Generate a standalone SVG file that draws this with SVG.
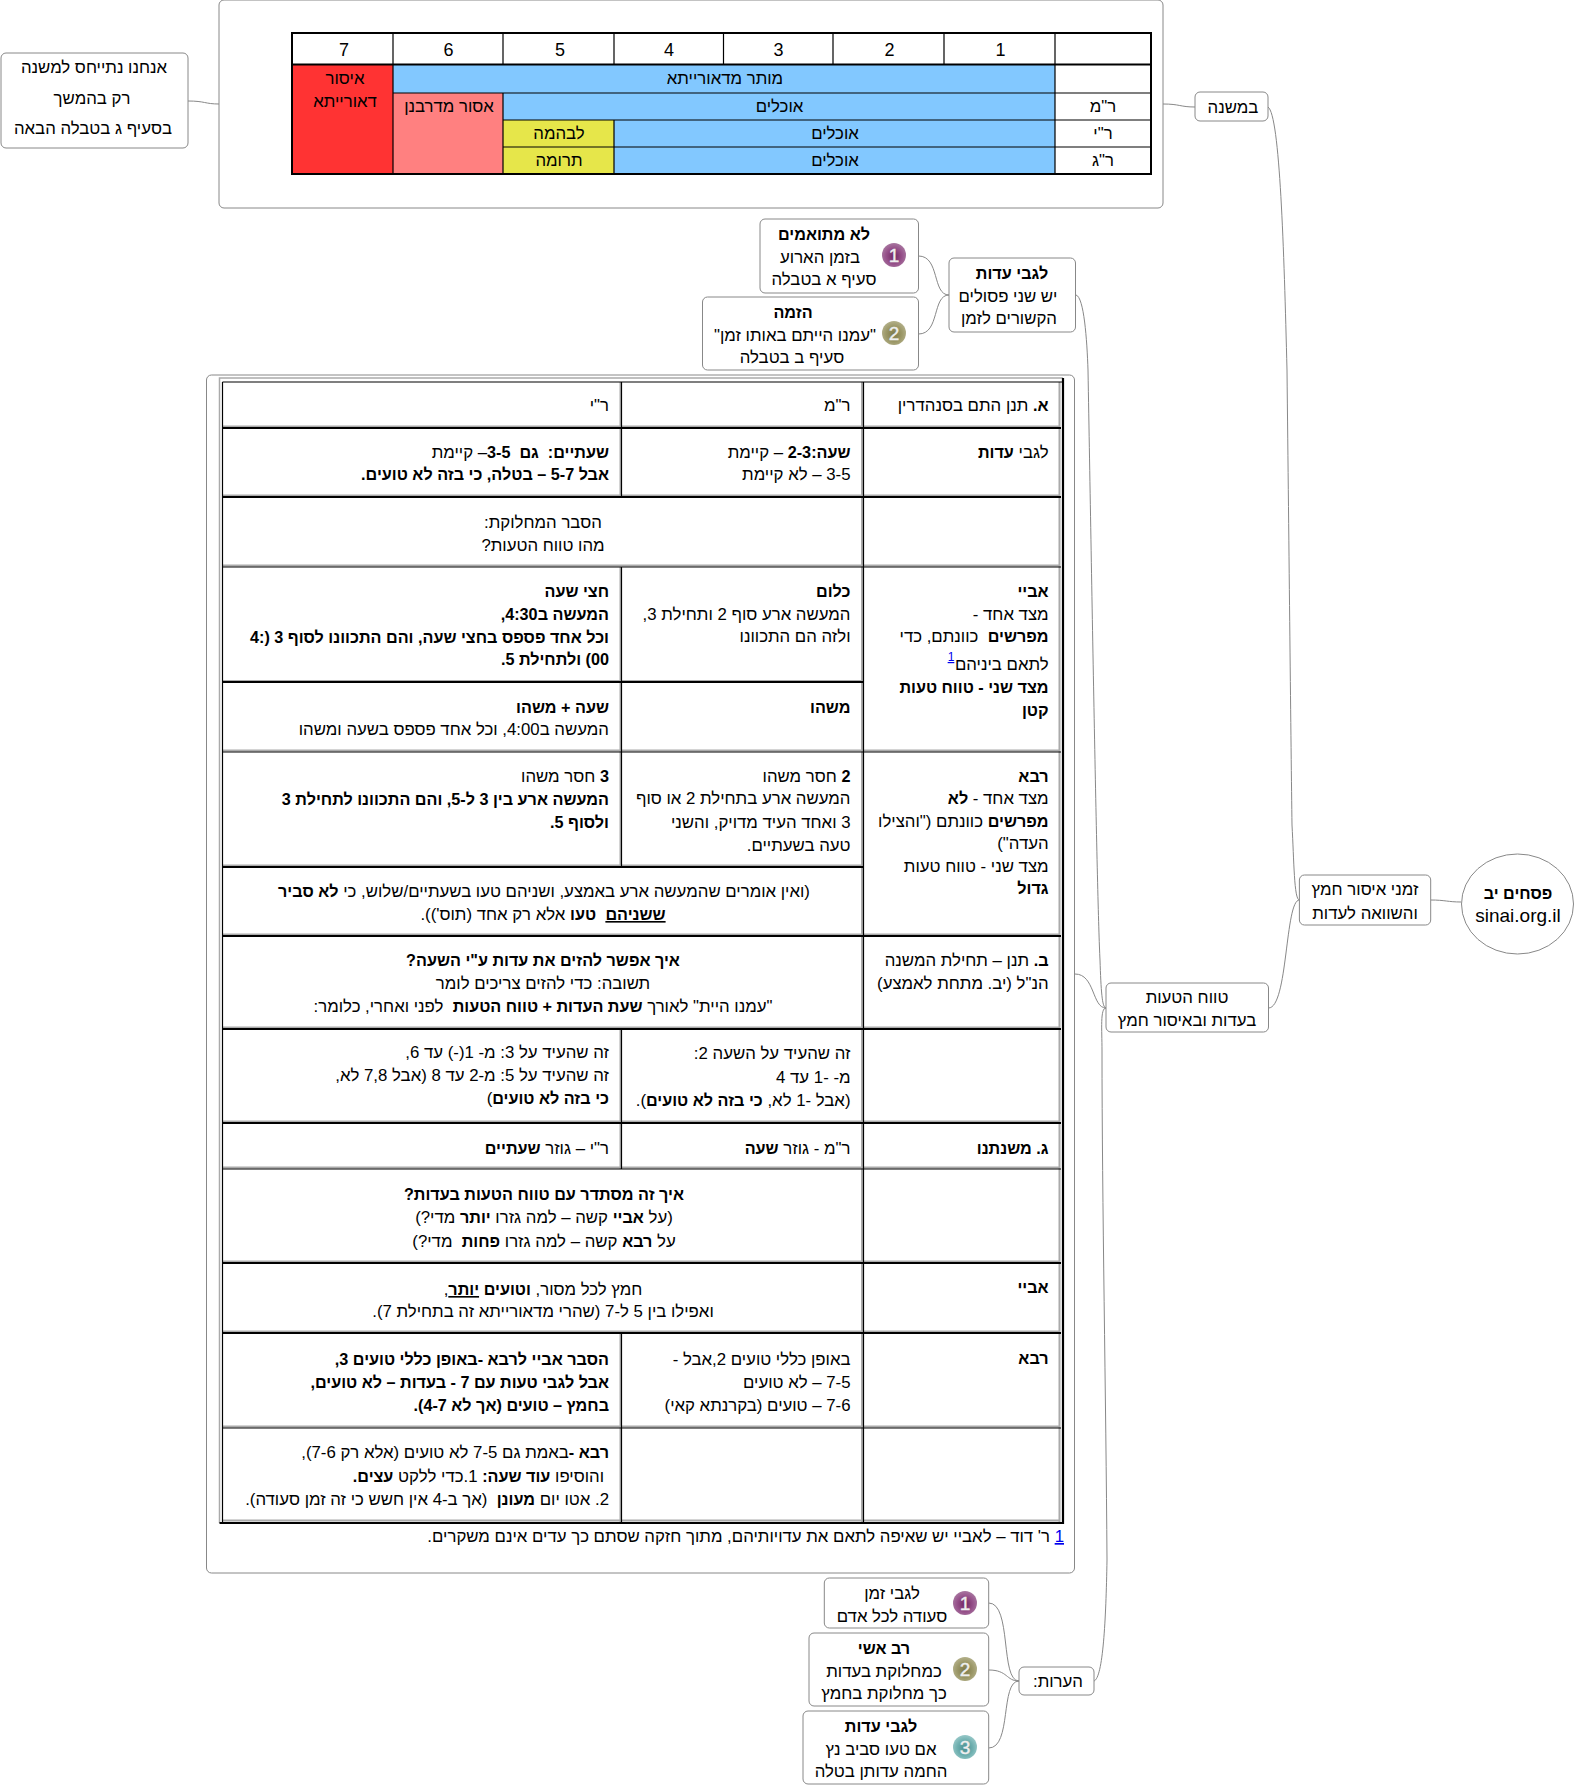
<svg xmlns="http://www.w3.org/2000/svg" width="1575" height="1785" viewBox="0 0 1575 1785">
<defs>
<style>
text{font-family:"Liberation Sans",Arial,sans-serif;font-size:16.8px;fill:#000;white-space:pre}
.r{direction:rtl;text-anchor:start}
.c{direction:rtl;text-anchor:middle}
.n{text-anchor:middle}
.d{font-size:18px}
.b,.bu{font-weight:bold;font-size:16.2px}
.u,.bu{text-decoration:underline}
.l{direction:ltr;unicode-bidi:embed}
.lnk{fill:#00e;text-decoration:underline}
.node{fill:#fff;stroke:#888;stroke-width:1}
.conn{fill:none;stroke:#888;stroke-width:1}
.k1{fill:none;stroke:#000;stroke-width:1.2}
.k2{fill:none;stroke:#000;stroke-width:2.2}
.t2{fill:none;stroke:#000;stroke-width:2}
.g{fill:none;stroke:#aaa;stroke-width:2}
.ico{fill:#eee;font-size:19px;text-anchor:middle;stroke:#eee;stroke-width:.4}
</style>
<radialGradient id="ball1" cx="50%" cy="55%" r="55%"><stop offset="0" stop-color="#6f2660"/><stop offset="0.6" stop-color="#96508a"/><stop offset="1" stop-color="#a877a0"/></radialGradient>
<radialGradient id="ball2" cx="50%" cy="55%" r="55%"><stop offset="0" stop-color="#7c7848"/><stop offset="0.6" stop-color="#9c9868"/><stop offset="1" stop-color="#b3b08a"/></radialGradient>
<radialGradient id="ball3" cx="50%" cy="55%" r="55%"><stop offset="0" stop-color="#4b8f90"/><stop offset="0.6" stop-color="#6fb0b0"/><stop offset="1" stop-color="#98c8c8"/></radialGradient>
</defs>
<rect width="1575" height="1785" fill="#fff"/>

<g id="connectors">
<path class="conn" d="M188,101 C205,101 205,104 219,104"/>
<path class="conn" d="M1163,104 C1180,104 1180,107 1195,107"/>
<path class="conn" d="M918.5,256 C940,256 932,295 949,295"/>
<path class="conn" d="M918.5,334 C940,334 932,295 949,295"/>
<path class="conn" d="M1268,107 C1280,115 1284,250 1287,370 C1289,550 1291,750 1292,825 C1294,860 1294,900 1299.4,900"/>
<path class="conn" d="M1076,295 C1084,297 1087,340 1088,370 C1092,600 1097,900 1100,960 C1101,990 1102,1008 1106,1008"/>
<path class="conn" d="M1075,974 C1095,974 1092,1008 1106,1008"/>
<path class="conn" d="M1094,1681 C1103,1678 1106,1620 1107,1560 C1106,1400 1102,1200 1102,1050 C1102,1030 1100,1008 1106,1008"/>
<path class="conn" d="M1268.5,1008 C1288,1008 1285,900 1299.4,900"/>
<path class="conn" d="M1430.7,900 C1445,900 1448,902 1461,902"/>
<path class="conn" d="M988.7,1603 C1012,1603 1000,1681 1019,1681"/>
<path class="conn" d="M988.7,1670 C1008,1670 1006,1681 1019,1681"/>
<path class="conn" d="M988.7,1748 C1012,1748 1000,1681 1019,1681"/>
</g>

<g id="note-left">
<rect class="node" x="1" y="53" width="187" height="95" rx="5"/>
<text class="c" x="94" y="73">אנחנו נתייחס למשנה</text>
<text class="c" x="92" y="104">רק בהמשך</text>
<text class="c" x="93" y="134">בסעיף ג בטבלה הבאה</text>
</g>

<g id="mishna-table">
<rect class="node" x="219" y="0" width="944" height="208" rx="5"/>
<rect x="292" y="64.5" width="101" height="109.5" fill="#ff3333"/>
<rect x="393" y="93" width="110" height="81" fill="#ff8080"/>
<rect x="393" y="64.5" width="662" height="28.5" fill="#82c8ff"/>
<rect x="503" y="93" width="552" height="27" fill="#82c8ff"/>
<rect x="503" y="120" width="111" height="54" fill="#e6e64a"/>
<rect x="614" y="120" width="441" height="54" fill="#82c8ff"/>
<path class="k1" d="M393,33V174M503,33V64M723.5,33V64M833,33V64M503,93V174M614,33V64M614,120V174M944,33V64M393,93H1152M503,120H1152M503,147H1152M1055,33V174"/>
<path class="t2" d="M292,33H1151V174H292ZM292,64.5H1151"/>
<g>
<text class="n d" x="344" y="56">7</text><text class="n d" x="448.5" y="56">6</text><text class="n d" x="560" y="56">5</text><text class="n d" x="669" y="56">4</text><text class="n d" x="778.6" y="56">3</text><text class="n d" x="889.5" y="56">2</text><text class="n d" x="1000.6" y="56">1</text>
<text class="c" x="725" y="84">מותר מדאורייתא</text>
<text class="c" x="345" y="84">איסור</text>
<text class="c" x="345" y="107">דאורייתא</text>
<text class="c" x="449" y="112">אסור מדרבנן</text>
<text class="c" x="779.5" y="112">אוכלים</text>
<text class="c" x="1103" y="112">ר"מ</text>
<text class="c" x="559" y="139">לבהמה</text>
<text class="c" x="835" y="139">אוכלים</text>
<text class="c" x="1103" y="139">ר"י</text>
<text class="c" x="559" y="166">תרומה</text>
<text class="c" x="835" y="166">אוכלים</text>
<text class="c" x="1103" y="166">ר"ג</text>
</g>
</g>

<g id="bamishna">
<rect class="node" x="1195" y="92" width="73" height="29" rx="5"/>
<text class="c" x="1233" y="113">במשנה</text>
</g>

<g id="lo-mitoamim">
<rect class="node" x="760" y="219" width="158.5" height="74" rx="5"/>
<circle cx="894" cy="255" r="12" fill="url(#ball1)"/><text class="ico" x="894" y="262">1</text>
<text class="c" x="824" y="240"><tspan class="b">לא מתואמים</tspan></text>
<text class="c" x="820" y="263">בזמן הארוע</text>
<text class="c" x="824" y="285">סעיף א בטבלה</text>
</g>

<g id="hazama">
<rect class="node" x="702.5" y="297" width="216" height="73" rx="5"/>
<circle cx="894" cy="333" r="12" fill="url(#ball2)"/><text class="ico" x="894" y="340">2</text>
<text class="c" x="793" y="318"><tspan class="b">הזמה</tspan></text>
<text class="c" x="795" y="341">"עמנו הייתם באותו זמן"</text>
<text class="c" x="792" y="363">סעיף ב בטבלה</text>
</g>

<g id="legabei-edut">
<rect class="node" x="949" y="258" width="126.5" height="74" rx="5"/>
<text class="c" x="1012" y="279"><tspan class="b">לגבי עדות</tspan></text>
<text class="c" x="1008" y="302">יש שני פסולים</text>
<text class="c" x="1009" y="324">הקשורים לזמן</text>
</g>

<g id="main-table">
<rect class="node" x="206.5" y="375" width="868" height="1198" rx="5"/>
<path fill="none" stroke="#aaa" stroke-width="1.5" d="M219.5,1523V378H1063"/>
<path class="g" d="M222,426.5H1060M222,495.5H1060M222,565.5H1060M222,681H863M222,750.5H1060M222,865.5H863M222,934.5H1060M222,1027.5H1060M222,1121.5H1060M222,1167.5H1060M222,1261.5H1060M222,1331.5H1060M222,1426.5H1060M222,1520.5H1060M862,382V1522M620.5,382V497M620.5,567V867M620.5,1029V1169M620.5,1333V1522M1059.5,382V1522"/>
<path class="k1" d="M222.5,382H1062M222.5,382V1522M621.5,382V497M621.5,567V867M621.5,1029V1169M621.5,1333V1522M863.5,382V1522M222,567H1061M222,752H1061M222,1169H1061M222,1428H1061"/>
<path class="k2" d="M222,428H1061M222,497H1061M222,682H863M222,867H863M222,936H1061M222,1029H1061M222,1123H1061M222,1263H1061M222,1333H1061M219.5,1523H1063V378"/>
<g>
<text class="r" x="1048.6" y="411"><tspan class="b">א.</tspan> תנן התם בסנהדרין</text>
<text class="r" x="850.5" y="411">ר"מ</text>
<text class="r" x="609" y="411">ר"י</text>

<text class="r" x="1048.6" y="458">לגבי <tspan class="b">עדות</tspan></text>
<text class="r" x="850.5" y="458"><tspan class="b">שעה:2-3</tspan> – קיימת</text>
<text class="r" x="850.5" y="480">3-5 – לא קיימת</text>
<text class="r" x="609" y="458"><tspan class="b">שעתיים:  גם  3-5</tspan>– קיימת</text>
<text class="r" x="609" y="480"><tspan class="b">אבל 5-7 – בטלה, כי בזה לא טועים.</tspan></text>

<text class="c" x="543" y="528">הסבר המחלוקת:</text>
<text class="c" x="543" y="551">מהו טווח הטעות?</text>

<text class="r" x="1048.6" y="597"><tspan class="b">אביי</tspan></text>
<text class="r" x="1048.6" y="620">מצד אחד -</text>
<text class="r" x="1048.6" y="642"><tspan class="b">מפרשים</tspan>  כוונתם, כדי</text>
<text class="r" x="1048.6" y="670">לתאם ביניהם</text>
<text class="n lnk" x="951" y="661" style="font-size:12px">1</text>
<text class="r" x="1048.6" y="693"><tspan class="b">מצד שני - טווח טעות</tspan></text>
<text class="r" x="1048.6" y="716"><tspan class="b">קטן</tspan></text>

<text class="r" x="850.5" y="597"><tspan class="b">כלום</tspan></text>
<text class="r" x="850.5" y="620">המעשה ארע סוף 2 ותחילת 3,</text>
<text class="r" x="850.5" y="642">ולזה הם התכוונו</text>
<text class="r" x="609" y="597"><tspan class="b">חצי שעה</tspan></text>
<text class="r" x="609" y="620"><tspan class="b">המעשה ב4:30,</tspan></text>
<text class="r" x="609" y="643"><tspan class="b">וכל אחד פספס בחצי שעה, והם התכוונו לסוף 3 (<tspan class="l">4:</tspan></tspan></text>
<text class="r" x="609" y="665"><tspan class="b">00) ולתחילת 5.</tspan></text>

<text class="r" x="850.5" y="713"><tspan class="b">משהו</tspan></text>
<text class="r" x="609" y="713"><tspan class="b">שעה + משהו</tspan></text>
<text class="r" x="609" y="735">המעשה ב4:00, וכל אחד פספס בשעה ומשהו</text>

<text class="r" x="1048.6" y="782"><tspan class="b">רבא</tspan></text>
<text class="r" x="1048.6" y="804">מצד אחד - <tspan class="b">לא</tspan></text>
<text class="r" x="1048.6" y="827"><tspan class="b">מפרשים</tspan> כוונתם ("והצילו</text>
<text class="r" x="1048.6" y="849">העדה")</text>
<text class="r" x="1048.6" y="872">מצד שני - טווח טעות</text>
<text class="r" x="1048.6" y="894"><tspan class="b">גדול</tspan></text>

<text class="r" x="850.5" y="782"><tspan class="b">2</tspan> חסר משהו</text>
<text class="r" x="850.5" y="804">המעשה ארע בתחילת 2 או סוף</text>
<text class="r" x="850.5" y="828">3 ואחד העיד מדויק, והשני</text>
<text class="r" x="850.5" y="851">טעה בשעתיים.</text>
<text class="r" x="609" y="782"><tspan class="b">3</tspan> חסר משהו</text>
<text class="r" x="609" y="805"><tspan class="b">המעשה ארע בין 3 ל-5, והם התכוונו לתחילת 3</tspan></text>
<text class="r" x="609" y="828"><tspan class="b">ולסוף 5.</tspan></text>

<text class="c" x="544" y="897">(ואין אומרים שהמעשה ארע באמצע, ושניהם טעו בשעתיים/שלוש, כי <tspan class="b">לא סביר</tspan></text>
<text class="c" x="543" y="920"><tspan class="bu">ששניהם</tspan>  <tspan class="b">טעו</tspan> אלא רק אחד (תוס')).</text>

<text class="r" x="1048.6" y="966"><tspan class="b">ב.</tspan> תנן – תחילת המשנה</text>
<text class="r" x="1048.6" y="989">הנ"ל (יב. מתחת לאמצע)</text>
<text class="c" x="543" y="966"><tspan class="b">איך אפשר להזים את עדות ע"י השעה?</tspan></text>
<text class="c" x="543" y="989">תשובה: כדי להזים צריכים לומר</text>
<text class="c" x="543" y="1012">"עמנו היית" לאורך <tspan class="b">שעת העדות + טווח הטעות</tspan>  לפני ואחרי, כלומר:</text>

<text class="r" x="850.5" y="1059">זה שהעיד על השעה 2:</text>
<text class="r" x="850.5" y="1083">מ- -1 עד 4</text>
<text class="r" x="850.5" y="1106">(אבל -1 לא, <tspan class="b">כי בזה לא טועים</tspan>).</text>
<text class="r" x="609" y="1058">זה שהעיד על 3: מ- 1(-) עד 6,</text>
<text class="r" x="609" y="1081">זה שהעיד על 5: מ-2 עד 8 (אבל 7,8 לא,</text>
<text class="r" x="609" y="1104"><tspan class="b">כי בזה לא טועים</tspan>)</text>

<text class="r" x="1048.6" y="1154"><tspan class="b">ג. משנתנו</tspan></text>
<text class="r" x="850.5" y="1154">ר"מ - גוזר <tspan class="b">שעה</tspan></text>
<text class="r" x="609" y="1154">ר"י – גוזר <tspan class="b">שעתיים</tspan></text>

<text class="c" x="544" y="1200"><tspan class="b">איך זה מסתדר עם טווח הטעות בעדות?</tspan></text>
<text class="c" x="544" y="1223">(על <tspan class="b">אביי</tspan> קשה – למה גזרו <tspan class="b">יותר</tspan> מדי?)</text>
<text class="c" x="544" y="1247">על <tspan class="b">רבא</tspan> קשה – למה גזרו <tspan class="b">פחות</tspan>  מדי?)</text>

<text class="r" x="1048.6" y="1293"><tspan class="b">אביי</tspan></text>
<text class="c" x="543" y="1295">חמץ לכל מסור, <tspan class="b">וטועים</tspan> <tspan class="bu">יותר</tspan>,</text>
<text class="c" x="543" y="1317">ואפילו בין 5 ל-7 (שהרי מדאורייתא זה בתחילת 7).</text>

<text class="r" x="1048.6" y="1364"><tspan class="b">רבא</tspan></text>
<text class="r" x="850.5" y="1365">באופן כללי טועים 2,אבל -</text>
<text class="r" x="850.5" y="1388">7-5 – לא טועים</text>
<text class="r" x="850.5" y="1411">7-6 – טועים (בקרנתא קאי)</text>
<text class="r" x="609" y="1365"><tspan class="b">הסבר אביי לרבא -באופן כללי טועים 3,</tspan></text>
<text class="r" x="609" y="1388"><tspan class="b">אבל לגבי טעות עם 7 - בעדות – לא טועים,</tspan></text>
<text class="r" x="609" y="1411"><tspan class="b">בחמץ – טועים (אך לא 4-7).</tspan></text>

<text class="r" x="609" y="1458"><tspan class="b">רבא -</tspan>באמת גם 7-5 לא טועים (אלא רק 7-6),</text>
<text class="r" x="604" y="1482">והוסיפו <tspan class="b">עוד שעה:</tspan> 1.כדי ללקט <tspan class="b">עצים.</tspan></text>
<text class="r" x="609" y="1505">2. אטו יום <tspan class="b">מעונן</tspan>  (אך ב-4 אין חשש כי זה זמן סעודה).</text>

<text class="r" x="1064" y="1542"><tspan class="lnk">1</tspan> ר' דוד – לאביי יש שאיפה לתאם את עדויותיהם, מתוך חזקה שסתם כך עדים אינם משקרים.</text>
</g>
</g>

<g id="tvach-hataut">
<rect class="node" x="1106" y="983" width="162.5" height="49" rx="5"/>
<text class="c" x="1187" y="1003">טווח הטעות</text>
<text class="c" x="1187" y="1026">בעדות ובאיסור חמץ</text>
</g>

<g id="zmanei-issur">
<rect class="node" x="1299.4" y="875" width="131.3" height="50" rx="5"/>
<text class="c" x="1365" y="895">זמני איסור חמץ</text>
<text class="c" x="1365" y="919">והשוואה לעדות</text>
</g>

<g id="root">
<ellipse class="node" cx="1517.5" cy="904" rx="56" ry="50"/>
<text class="c" x="1518" y="899"><tspan class="b">פסחים יב</tspan></text>
<text class="n" x="1518" y="922" style="font-size:19px">sinai.org.il</text>
</g>

<g id="note-1">
<rect class="node" x="824.3" y="1578" width="164.4" height="50" rx="5"/>
<circle cx="965" cy="1603" r="12" fill="url(#ball1)"/><text class="ico" x="965" y="1610">1</text>
<text class="c" x="892" y="1599">לגבי זמן</text>
<text class="c" x="892" y="1622">סעודה לכל אדם</text>
</g>
<g id="note-2">
<rect class="node" x="809" y="1633" width="179.7" height="73" rx="5"/>
<circle cx="965" cy="1669" r="12" fill="url(#ball2)"/><text class="ico" x="965" y="1676">2</text>
<text class="c" x="884" y="1654"><tspan class="b">רב אשי</tspan></text>
<text class="c" x="884" y="1677">כמחלוקת בעדות</text>
<text class="c" x="884" y="1699">כך מחלוקת בחמץ</text>
</g>
<g id="note-3">
<rect class="node" x="803" y="1711" width="185.7" height="73" rx="5"/>
<circle cx="965" cy="1747" r="12" fill="url(#ball3)"/><text class="ico" x="965" y="1754">3</text>
<text class="c" x="881" y="1732"><tspan class="b">לגבי עדות</tspan></text>
<text class="c" x="881" y="1755">אם טעו סביב נץ</text>
<text class="c" x="881" y="1777">החמה עדותן בטלה</text>
</g>
<g id="notes">
<rect class="node" x="1019" y="1667" width="75" height="28" rx="5"/>
<text class="c" x="1058" y="1687">הערות:</text>
</g>
</svg>
